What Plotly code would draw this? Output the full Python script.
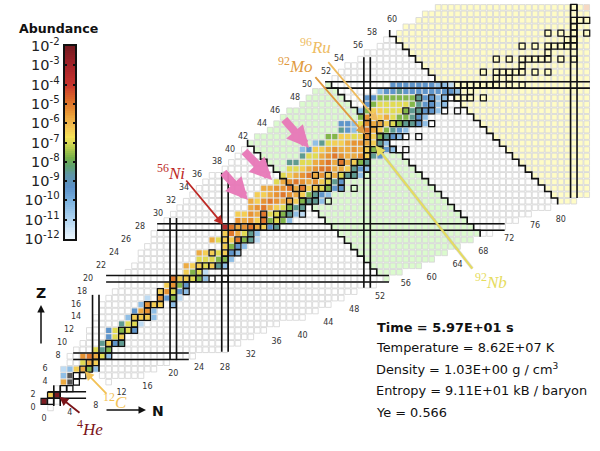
import plotly.graph_objects as go

# ---------- colour levels (log10 abundance) ----------
dr, r, do, o, lo, y, yg, g, t, b, lb, pb = -2.2, -3.5, -5.0, -5.4, -5.8, -6.4, -6.9, -7.7, -8.5, -9.4, -10.4, -11.2
_ = None

colorbar_ticks = [-2, -3, -4, -5, -6, -7, -8, -9, -10, -11, -12]
colorbar_labels = ["10<sup>%d</sup>" % v for v in colorbar_ticks]
colorbar_levels = [-12 + i * 0.1 for i in range(101)]
colorscale = [
    [0.00, "#ecf6fd"], [0.10, "#b3d6f2"], [0.20, "#78b0de"], [0.27, "#5b90c8"], [0.33, "#5f96a8"],
    [0.38, "#5fa26e"], [0.42, "#76b04a"], [0.47, "#b6cc4c"], [0.53, "#f6e257"], [0.58, "#f2c152"],
    [0.65, "#e99a36"], [0.72, "#dc6a28"], [0.80, "#c8352e"], [0.90, "#a3232a"], [1.00, "#741a20"],
]

# ---------- chart outline: first neutron number in each row, first proton number in each column ----------
row_first_N = [1, 0, 1, 2, 3, 3, 3, 4, 4, 5, 6, 7, 7, 8, 8, 9, 9, 10, 11, 12, 12, 13, 14, 15, 15, 16, 17, 17, 18,
               19, 20, 21, 22, 23, 24, 25, 26, 28, 29, 30, 31, 32, 33, 35, 36, 37, 38, 40, 41, 42, 44, 45, 46,
               47, 49, 50, 52, 53, 55, 56, 58, 59, 61]
column_first_Z = [1, 0, 1, 3, 3, 4, 5, 6, 6, 5, 4, 5, 5, 5, 5, 5, 6, 6, 7, 7, 8, 8, 8, 8, 9, 9, 9, 9, 9, 10, 10, 11,
                  11, 12, 12, 13, 13, 14, 14, 14, 14, 15, 15, 16, 16, 17, 17, 18, 18, 19, 19, 19, 20, 20, 21, 21,
                  22, 22, 22, 23, 23, 24, 24, 25, 25, 26, 26, 27, 27, 27, 28, 28, 29, 29, 30, 30, 31, 31, 31, 32,
                  32, 32, 32, 33, 33]

# ---------- log10 abundance per proton number: (first N, values) ----------
abundance = {
    1: (0, [dr]), 2: (1, [y, dr]), 4: (3, [lo]), 5: (3, [lb]),
    6: (3, [pb, lb, y, lo, g, lb]), 7: (6, [yg, lo, y]), 8: (6, [o, do, lo, yg, lb]),
    9: (8, [yg, t, g]), 10: (9, [t, y, b, t]), 11: (10, [b, yg, y]), 12: (10, [b, yg, g, yg, b]),
    13: (12, [t, yg, yg, pb]), 14: (13, [lb, y, y, y, lb]), 15: (14, [b, lo, o, lb]),
    16: (15, [lb, o, y, y, _, lb]), 17: (16, [pb, _, o, b, g, pb]), 18: (18, [y, o, yg, b, lb]),
    19: (19, [y, o, g, b]), 20: (20, [do, y, y, yg, g, lb]), 21: (22, [y, g, yg, pb]),
    22: (22, [lo, y, y, yg, y, t, lb]), 23: (24, [yg, yg, yg, g, g, lb]), 24: (24, [lo, y, y, yg, y, b, lb]),
    25: (28, [y, g, b, lb]), 26: (26, [lo, yg, y, y, do, g, t, pb]), 27: (28, [y, do, lo, yg, t, lb]),
    28: (28, [r, do, lo, o, do, lo, y, b, t]), 29: (30, [o, lo, o, y, do, g, yg, g, lb]),
    30: (30, [y, y, o, lo, do, yg, yg, g, t, lb, pb]), 31: (32, [lo, o, do, lo, y, yg, g, t, t]),
    32: (32, [lo, y, o, do, o, lo, lo, y, g, t, t, lb]), 33: (33, [y, y, lo, o, do, o, lo, y, g, t, b, lb]),
    34: (34, [lo, lo, o, o, do, lo, do, y, y, yg, g, b, b]), 35: (36, [yg, lo, o, do, o, lo, o, y, yg, t, b]),
    36: (37, [yg, y, lo, o, do, lo, o, y, lo, yg, t, t, lb]), 37: (38, [yg, yg, y, lo, o, do, do, lo, lo, y, t, b, lb]),
    38: (38, [t, t, yg, yg, lo, o, do, lo, do, lo, y, g, t]), 39: (40, [t, yg, yg, lo, o, do, o, lo, lo, o, y, t, b]),
    40: (40, [lb, b, y, y, lo, o, lo, lo, o, lo, y, g, g, b, lb]), 41: (42, [lb, t, yg, y, y, lo, o, o, lo, y, t, lb]),
    42: (44, [g, g, y, y, yg, y, o, y, g, t, b, lb]), 43: (46, [t, b, lb, g, do, lo, y, g, t, b, lb]),
    44: (46, [b, b, lb, yg, o, lo, lo, y, yg, g, t, t, b, lb]), 45: (49, [g, o, y, y, lo, yg, g, g, t, b, lb]),
    46: (49, [lb, g, y, y, yg, yg, yg, g, t, t, b, b, lb]), 47: (50, [b, g, yg, yg, yg, yg, yg, g, t, b, b, lb, lb]),
    48: (50, [b, b, g, g, g, g, g, g, t, b, b, lb, lb]), 49: (52, [lb, b, b, t, b, b, b, b, b, b, b, b, lb]),
    50: (54, [b, b, b, b, b, b, b, lb, lb, pb]),
}
grey_cells_N = [4, 4]
grey_cells_Z = [4, 5]
pale_cell_N = [84]
pale_cell_Z = [62]

# ---------- stable isotopes: proton number -> mass numbers ----------
stable_A = {
    1: [1, 2], 2: [3, 4], 3: [6, 7], 4: [9], 5: [10, 11], 6: [12, 13], 7: [14, 15], 8: [16, 17, 18], 9: [19],
    10: [20, 21, 22], 11: [23], 12: [24, 25, 26], 13: [27], 14: [28, 29, 30], 15: [31], 16: [32, 33, 34, 36],
    17: [35, 37], 18: [36, 38, 40], 19: [39, 41], 20: [40, 42, 43, 44, 46, 48], 21: [45], 22: [46, 47, 48, 49, 50],
    23: [51], 24: [50, 52, 53, 54], 25: [55], 26: [54, 56, 57, 58], 27: [59], 28: [58, 60, 61, 62, 64], 29: [63, 65],
    30: [64, 66, 67, 68, 70], 31: [69, 71], 32: [70, 72, 73, 74, 76], 33: [75], 34: [74, 76, 77, 78, 80, 82],
    35: [79, 81], 36: [78, 80, 82, 83, 84, 86], 37: [85, 87], 38: [84, 86, 87, 88], 39: [89], 40: [90, 91, 92, 94, 96],
    41: [93], 42: [92, 94, 95, 96, 97, 98, 100], 44: [96, 98, 99, 100, 101, 102, 104], 45: [103],
    46: [102, 104, 105, 106, 108, 110], 47: [107, 109], 48: [106, 108, 110, 111, 112, 113, 114, 116], 49: [113, 115],
    50: [112, 114, 115, 116, 117, 118, 119, 120, 122, 124], 51: [121, 123], 52: [120, 122, 123, 124, 125, 126, 128, 130],
    53: [127], 54: [124, 126, 128, 129, 130, 131, 132, 134, 136], 55: [133], 56: [130, 132, 134, 135, 136, 137, 138],
    57: [138, 139], 58: [136, 138, 140, 142], 59: [141], 60: [142, 143, 144], 62: [144],
}

# ---------- magic-number bands and mass cuts ----------
magic_rows = [(2, 0.6, 6.5), (8, 4.5, 22.4), (20, 9.6, 53.4), (28, 17.5, 71.3), (50, 43.5, 84.5)]
magic_cols = [(2, 0.3, 3.5), (8, 5.6, 17.5), (20, 7.4, 29.4), (28, 8.7, 36.4), (50, 18.6, 54.3), (82, 32.5, 62.5)]
mass_cuts = [(72, 21, 41), (94, 27, 50), (111, 32, 58)]
green_mass_range = (73, 94)
yellow_mass_from = 112

# ---------- axis labels ----------
z_label_values = list(range(0, 62, 2))
z_label_pixel_x = [33, 33, 45, 45, 58, 62, 69, 76, 76, 82, 88, 101, 114, 126, 140, 158, 171, 184, 197, 217, 230, 243,
                   262, 275, 295, 307, 326, 339, 358, 372, 392]
n_label_values = list(range(0, 84, 4))
n_label_pixel_y = [419, 413, 406, 393, 387, 374, 368, 368, 355, 342, 336, 323, 310, 297, 284, 278, 265, 252, 239, 226, 220]

# ---------- pixel geometry of the plot ----------
W, H = 600, 451
CELL = 6.46


def data_x(px):
    return (px - 57) / CELL + 2


def data_y(py):
    return (395 - py) / CELL + 2


fig = go.Figure()

# background grid
grid_N, grid_Z, grid_c = [], [], []
for Z in range(len(row_first_N)):
    for N in range(row_first_N[Z], len(column_first_Z)):
        if Z >= column_first_Z[N]:
            A = N + Z
            grid_N.append(N)
            grid_Z.append(Z)
            if green_mass_range[0] <= A <= green_mass_range[1]:
                grid_c.append("#dbfbcd")
            elif A >= yellow_mass_from:
                grid_c.append("#fffcc6")
            else:
                grid_c.append("#ffffff")
fig.add_trace(go.Scatter(x=grid_N, y=grid_Z, mode="markers", hoverinfo="skip",
                         marker=dict(symbol="square", size=5.6, color=grid_c,
                                     line=dict(color="#d6d6d6", width=0.85))))

# abundances
ab_N, ab_Z, ab_v = [], [], []
for Z, (first, values) in abundance.items():
    for i, v in enumerate(values):
        if v is not None:
            ab_N.append(first + i)
            ab_Z.append(Z)
            ab_v.append(v)
fig.add_trace(go.Scatter(x=ab_N, y=ab_Z, mode="markers", hoverinfo="skip",
                         marker=dict(symbol="square", size=5.2, color=ab_v, cmin=-12, cmax=-2,
                                     colorscale=colorscale, showscale=False,
                                     line=dict(width=0))))
fig.add_trace(go.Scatter(x=grey_cells_N, y=grey_cells_Z, mode="markers", hoverinfo="skip",
                         marker=dict(symbol="square", size=5.2, color="#555555", line=dict(width=0))))
fig.add_trace(go.Scatter(x=pale_cell_N, y=pale_cell_Z, mode="markers", hoverinfo="skip",
                         marker=dict(symbol="square", size=5.2, color="#f6d9c4", line=dict(width=0))))

# stable isotopes
st_N, st_Z = [], []
for Z, masses in stable_A.items():
    for A in masses:
        if A - Z <= 84:
            st_N.append(A - Z)
            st_Z.append(Z)
fig.add_trace(go.Scatter(x=st_N, y=st_Z, mode="markers", hoverinfo="skip",
                         marker=dict(symbol="square-open", size=6.0, color="#111111",
                                     line=dict(color="#111111", width=1.25))))

# magic-number bands and stairs
lx, ly = [], []
for Z, n0, n1 in magic_rows:
    for off in (-0.5, 0.5):
        lx += [n0, n1, None]
        ly += [Z + off, Z + off, None]
for N, z0, z1 in magic_cols:
    for off in (-0.5, 0.5):
        lx += [N + off, N + off, None]
        ly += [z0, z1, None]
for A, z0, z1 in mass_cuts:
    for Z in range(z1, z0 - 1, -1):
        lx += [A - Z + 0.5, A - Z + 0.5]
        ly += [Z + 0.5, Z - 0.5]
    lx.append(None)
    ly.append(None)
fig.add_trace(go.Scatter(x=lx, y=ly, mode="lines", hoverinfo="skip", line=dict(color="#111111", width=1.6)))

# number labels
fig.add_trace(go.Scatter(x=[data_x(v) for v in z_label_pixel_x], y=z_label_values, mode="text", hoverinfo="skip",
                         text=[str(v) for v in z_label_values], textfont=dict(family="DejaVu Sans", size=8, color="#333333")))
fig.add_trace(go.Scatter(x=n_label_values, y=[data_y(v) for v in n_label_pixel_y], mode="text", hoverinfo="skip",
                         text=[str(v) for v in n_label_values], textfont=dict(family="DejaVu Sans", size=8, color="#333333")))

# colour bar
fig.add_trace(go.Heatmap(x=[0], y=colorbar_levels, z=[[v] for v in colorbar_levels], zmin=-12, zmax=-2,
                         colorscale=colorscale, showscale=False, xaxis="x2", yaxis="y2", hoverinfo="skip"))


def arrow(n, z, dx, dy, color, width=1.8, head=1.0, standoff=3, opacity=1.0):
    fig.add_annotation(x=n, y=z, ax=dx, ay=dy, axref="pixel", ayref="pixel", text="", showarrow=True, arrowhead=2,
                       arrowsize=head, arrowwidth=width, arrowcolor=color, standoff=standoff, opacity=opacity)


def iso(px, py, mass, name, color, size=17):
    fig.add_annotation(x=px / W, y=1 - py / H, xref="paper", yref="paper", xanchor="left", yanchor="middle",
                       text="<sup>%s</sup><i>%s</i>" % (mass, name), showarrow=False,
                       font=dict(family="Liberation Serif", size=size, color=color))


def txt(px, py, s, size=12.9):
    fig.add_annotation(x=(px - 2) / W, y=1 - py / H, xref="paper", yref="paper", xanchor="left", yanchor="middle",
                       text=s, showarrow=False, font=dict(family="DejaVu Sans", size=size, color="#111111"))


# coloured arrows
arrow(28, 28, -40, -48, "#bd2a26")
arrow(2, 2, 24, 19, "#7b1418")
arrow(6, 6, 25, 26, "#f2c155")
arrow(50, 42, -53, -61, "#df9a40")
arrow(52, 44, -53, -63, "#eebc62")
arrow(51, 41, 100, 127, "#9a9a9a", width=3.2, head=0.6, opacity=0.35)
arrow(51, 41, 100, 127, "#e6dc5e", width=2)
iso(155, 172, 56, "Ni", "#bd2a26")
iso(75, 428, 4, "He", "#7b1418")
iso(101, 401, 12, "C", "#f2c155")
iso(276, 65, 92, "Mo", "#df9a40")
iso(298, 46, 96, "Ru", "#eebc62")
iso(473, 281, 92, "Nb", "#e6dc5e")

# pink arrows
for hx, hy, tx, ty in [(248, 200, 222, 171), (272, 180, 243, 150), (309, 148, 283, 118)]:
    arrow(data_x(hx), data_y(hy), tx - hx, ty - hy, "#e878b8", width=8, head=0.55, standoff=0, opacity=0.95)

# N and Z direction arrows
arrow(data_x(41), data_y(305), 0, 40, "#111111", width=1.5, standoff=0)
arrow(data_x(146), data_y(410), -41, 0, "#111111", width=1.5, standoff=0)
txt(36, 293, "<b>Z</b>", 14)
txt(152, 411, "<b>N</b>", 14)
txt(19, 28, "<b>Abundance</b>", 12.6)

# status text
txt(377, 327, "<b>Time = 5.97E+01 s</b>")
txt(376, 347, "Temperature = 8.62E+07 K")
txt(376, 369, "Density = 1.03E+00 g / cm<sup>3</sup>")
txt(376, 390, "Entropy = 9.11E+01 kB / baryon")
txt(376, 412, "Ye = 0.566")

fig.update_layout(
    width=W, height=H, margin=dict(l=0, r=0, t=0, b=0, autoexpand=False), showlegend=False,
    paper_bgcolor="white", plot_bgcolor="white",
    xaxis=dict(domain=[0, 1], range=[data_x(0), data_x(W)], visible=False, fixedrange=True),
    yaxis=dict(domain=[0, 1], range=[data_y(H), data_y(0)], visible=False, fixedrange=True),
    xaxis2=dict(domain=[64.5 / W, 75 / W], anchor="y2", showticklabels=False, showgrid=False, zeroline=False,
                ticks="", mirror=True, showline=True, linecolor="#111111", linewidth=2),
    yaxis2=dict(domain=[1 - 239 / H, 1 - 46 / H], anchor="x2", range=[-12, -2], tickvals=colorbar_ticks,
                ticktext=colorbar_labels, ticks="inside", ticklen=2, tickwidth=2, tickcolor="#111111",
                mirror="ticks", showline=True, linecolor="#111111", linewidth=2, showgrid=False, zeroline=False,
                tickfont=dict(family="DejaVu Sans", size=14.5, color="#222222")),
)
fig.write_html("out.html", config={"displayModeBar": False}, post_script="document.body.style.margin='0';")
